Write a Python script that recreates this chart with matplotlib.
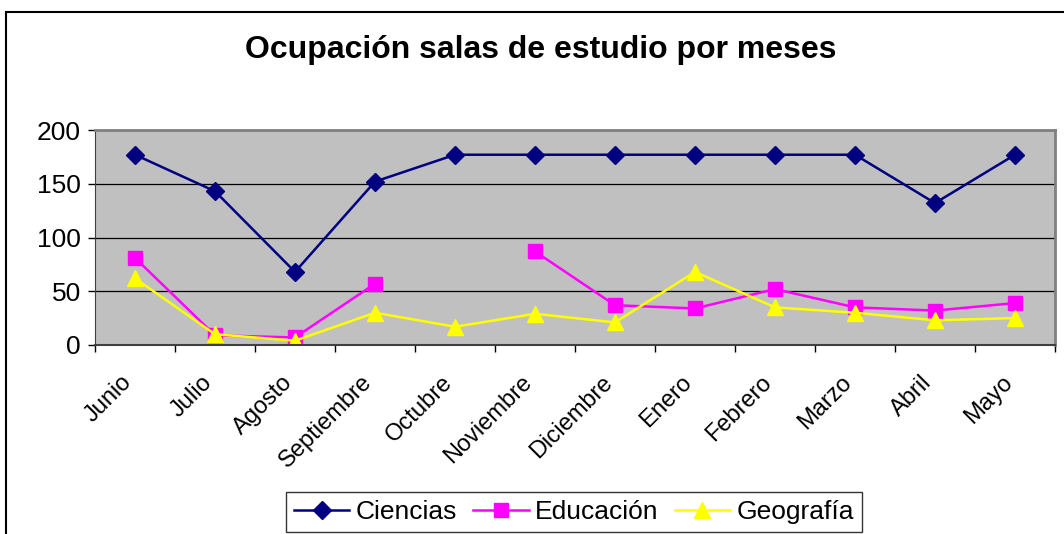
import numpy as np
import matplotlib.pyplot as plt
import matplotlib.transforms as mtransforms
from matplotlib.patches import Rectangle

meses = ['Junio', 'Julio', 'Agosto', 'Septiembre', 'Octubre', 'Noviembre',
         'Diciembre', 'Enero', 'Febrero', 'Marzo', 'Abril', 'Mayo']
ciencias = [177, 143, 68, 152, 177, 177, 177, 177, 177, 177, 132, 177]
educacion = [81, 9, 7, 57, np.nan, 87, 37, 34, 52, 35, 32, 39]
geografia = [62, 10, 4, 30, 17, 29, 21, 68, 35, 30, 23, 25]

plt.rcParams['font.family'] = ['Liberation Sans', 'DejaVu Sans']

fig = plt.figure(figsize=(10.64, 5.34), dpi=100)
ax = fig.add_axes([95 / 1064, 1 - 345 / 534, 960 / 1064, 215 / 534])
ax.set_facecolor('#c0c0c0')

x = np.arange(len(meses))
ax.plot(x, ciencias, color='#000080', lw=1.8, marker='D', ms=9,
        label='Ciencias')
ax.plot(x, educacion, color='#ff00ff', lw=1.8, marker='s', ms=10,
        label='Educación')
ax.plot(x, geografia, color='#ffff00', lw=1.8, marker='^', ms=11,
        label='Geografía')

ax.set_xlim(-0.5, len(meses) - 0.5)
ax.set_ylim(0, 200)
ax.set_yticks([0, 50, 100, 150, 200])
ax.yaxis.grid(True, color='black', lw=0.9)
ax.set_axisbelow(True)
ax.tick_params(axis='y', labelsize=19, length=5, width=1, pad=5,
               direction='out')

ax.set_xticks(x)
ax.set_xticklabels(meses, rotation=45, ha='right', va='top',
                   rotation_mode='anchor', fontsize=17)
ax.set_xticks(np.arange(-0.5, len(meses)), minor=True)
ax.tick_params(axis='x', which='major', length=0, pad=19)
ax.tick_params(axis='x', which='minor', length=5, width=1, direction='out')
shift = mtransforms.ScaledTranslation(-0.14, 0, fig.dpi_scale_trans)
for lbl in ax.get_xticklabels():
    lbl.set_transform(lbl.get_transform() + shift)

for side in ['top', 'right']:
    ax.spines[side].set_color('#808080')
    ax.spines[side].set_linewidth(2)
ax.spines['left'].set_color('#404040')
ax.spines['bottom'].set_color('#404040')
ax.spines['bottom'].set_linewidth(1.5)

fig.text(541 / 1064, 1 - 50 / 534, 'Ocupación salas de estudio por meses',
         ha='center', va='center', fontsize=23, fontweight='bold')

fig.patches.append(Rectangle((6 / 1064, -0.1), 2, 1.1 - 12 / 534,
                             transform=fig.transFigure, fill=False,
                             edgecolor='black', lw=1.5))

leg = ax.legend(loc='center', bbox_to_anchor=(574 / 1064, 1 - 512 / 534),
                bbox_transform=fig.transFigure, ncol=3, fontsize=19,
                frameon=True, fancybox=False, edgecolor='black',
                handlelength=2.1, handletextpad=0.25, columnspacing=0.6,
                borderpad=0.3, borderaxespad=0)
leg.get_frame().set_linewidth(1)

fig.savefig('out.png', dpi=100)
